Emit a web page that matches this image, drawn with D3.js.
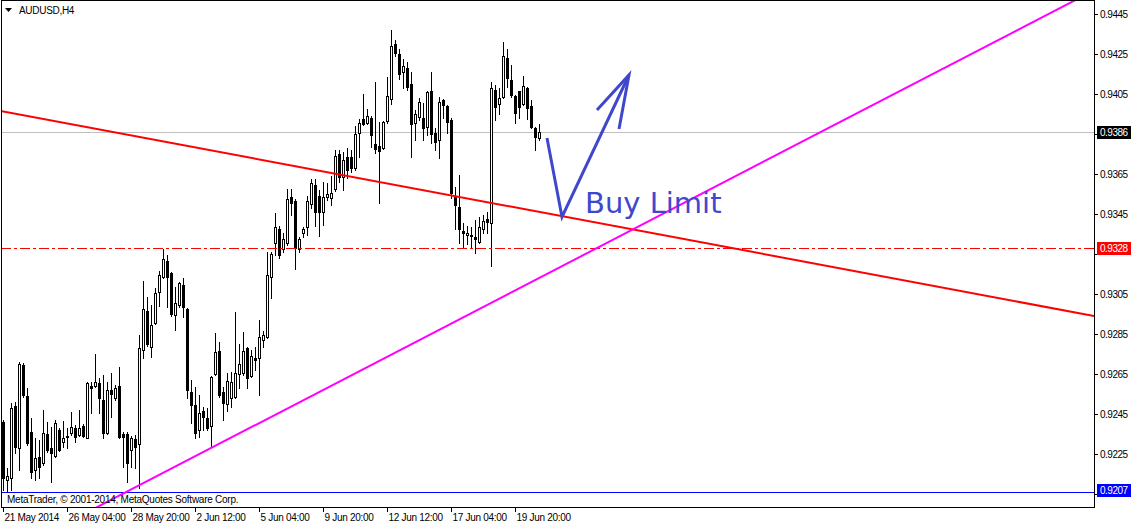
<!DOCTYPE html>
<html><head><meta charset="utf-8">
<script src="https://cdn.jsdelivr.net/npm/d3@7"></script>
<style>body{margin:0;background:#fff}svg{display:block}</style>
</head><body>
<svg id="c" width="1134" height="525"></svg>
<script>
// ---- data ----
const symbol = "AUDUSD,H4";
const copyright = "MetaTrader, \u00A9 2001-2014, MetaQuotes Software Corp.";
const opens = [0.9241,0.9212,0.9213,0.9249,0.9228,0.92695,0.9254,0.9236,0.9217,0.92235,
0.92205,0.9235,0.9228,0.9224,0.9237,0.9231,0.9234,0.92355,0.9238,0.92345,
0.9239,0.9233,0.9259,0.9259,0.92605,0.9252,0.92355,0.9257,0.9253,0.9259,
0.9235,0.9235,0.9227,0.92325,0.9230,0.9277,0.92965,0.92785,0.92905,0.9306,
0.93135,0.93215,0.93155,0.92945,0.92995,0.93095,0.92975,0.9256,0.92495,0.9237,
0.92465,0.9243,0.9239,0.9265,0.92765,0.9256,0.9250,0.9253,0.92535,0.9265,
0.92655,0.9278,0.9264,0.9273,0.9273,0.9282,0.92835,0.93135,0.93305,0.93375,
0.93275,0.93305,0.93535,0.93515,0.93275,0.93355,0.93385,0.9350,0.93595,0.9354,
0.9346,0.93535,0.9353,0.93575,0.9375,0.93635,0.93735,0.93735,0.9368,0.93855,
0.93925,0.93905,0.9393,0.9380,0.9379,0.9378,0.93915,0.94025,0.9430,0.9425,
0.9416,0.9418,0.9410,0.93905,0.93935,0.9393,0.93885,0.94065,0.93855,0.9382,
0.9402,0.9399,0.9392,0.9354,0.93485,0.93365,0.93345,0.93345,0.93335,0.9331,
0.93375,0.93425,0.93405,0.9407,0.9400,0.94035,0.9423,0.9412,0.9404,0.94065,
0.9400,0.9408,0.9399,0.9388,0.9383];
const highs = [0.9242,0.9218,0.92505,0.9251,0.9271,0.92705,0.9258,0.9243,0.9233,0.9232,
0.9247,0.9241,0.92385,0.9242,0.9238,0.92415,0.9238,0.9246,0.92395,0.9247,
0.9240,0.9261,0.9261,0.9275,0.9263,0.92645,0.9261,0.92655,0.92595,0.92685,
0.9236,0.9236,0.9234,0.92345,0.92845,0.93115,0.93035,0.92995,0.9308,0.93165,
0.93275,0.93245,0.9316,0.93085,0.9311,0.9313,0.9298,0.9262,0.92585,0.92545,
0.92485,0.9248,0.9264,0.92855,0.9281,0.92585,0.92655,0.9266,0.9296,0.9280,
0.9286,0.92785,0.9277,0.92785,0.9292,0.92865,0.9326,0.9326,0.93455,0.9339,
0.93355,0.93575,0.93575,0.93525,0.93335,0.93385,0.9354,0.93625,0.93625,0.9357,
0.9361,0.93605,0.9364,0.9377,0.9377,0.9376,0.9378,0.9377,0.9389,0.93925,
0.9405,0.93975,0.9394,0.9411,0.9391,0.93915,0.94135,0.9437,0.9432,0.94275,
0.94225,0.9421,0.9416,0.9397,0.9403,0.94005,0.94065,0.9416,0.9388,0.94035,
0.94025,0.93995,0.9393,0.93585,0.93645,0.93405,0.9339,0.93385,0.9342,0.93435,
0.93445,0.9346,0.9411,0.94095,0.9408,0.9431,0.94275,0.94195,0.94045,0.94005,
0.9414,0.94085,0.9402,0.93885,0.9390];
const lows = [0.9207,0.9206,0.9207,0.92255,0.9217,0.92535,0.92295,0.9213,0.9212,0.9213,
0.92195,0.9226,0.9211,0.92235,0.92265,0.92285,0.9228,0.92345,0.9231,0.9234,
0.92335,0.9233,0.92455,0.92585,0.92455,0.9233,0.9235,0.92435,0.9252,0.9233,
0.92185,0.9211,0.92185,0.9218,0.9208,0.9273,0.9279,0.92735,0.9290,0.9299,
0.9313,0.92985,0.9294,0.9287,0.92985,0.92935,0.9253,0.92405,0.9233,0.92335,
0.9237,0.9237,0.92285,0.92645,0.92535,0.9242,0.92465,0.92485,0.9253,0.9258,
0.92645,0.9258,0.92635,0.9267,0.92545,0.92785,0.9283,0.9303,0.93245,0.9323,
0.9326,0.93295,0.93445,0.93175,0.9326,0.93335,0.93345,0.9348,0.9339,0.9334,
0.93395,0.9352,0.93495,0.93565,0.9361,0.9357,0.9363,0.9366,0.9367,0.93735,
0.93895,0.9390,0.93785,0.93755,0.93505,0.93775,0.93905,0.9400,0.9424,0.94125,
0.9408,0.9407,0.93735,0.9382,0.9392,0.9382,0.93845,0.93805,0.9377,0.9373,
0.9393,0.93855,0.9353,0.93375,0.93305,0.9328,0.9330,0.9328,0.93255,0.93305,
0.93355,0.93355,0.9319,0.9392,0.9395,0.9403,0.94085,0.94035,0.93905,0.9393,
0.93995,0.93925,0.9388,0.9377,0.9382];
const closes = [0.9213,0.9214,0.9248,0.92285,0.9270,0.92545,0.92305,0.9216,0.9223,0.92185,
0.92355,0.9227,0.92255,0.92405,0.9227,0.9233,0.9234,0.92385,0.92335,0.9238,
0.9234,0.92605,0.9258,0.9261,0.9253,0.92355,0.9257,0.9255,0.9258,0.92335,
0.92335,0.92205,0.9233,0.92285,0.9278,0.92975,0.9280,0.92895,0.93055,0.93145,
0.93225,0.93135,0.9295,0.93005,0.93105,0.92985,0.9257,0.92495,0.92355,0.92455,
0.92435,0.9238,0.92635,0.9276,0.92545,0.92505,0.92615,0.9261,0.92655,0.9270,
0.92765,0.9263,0.9274,0.9272,0.92835,0.92845,0.93145,0.9325,0.93385,0.93245,
0.93325,0.93525,0.93505,0.9328,0.93325,0.93375,0.93515,0.93605,0.9346,0.9346,
0.93535,0.9355,0.93555,0.9374,0.93635,0.9372,0.9367,0.9368,0.9385,0.93905,
0.9390,0.9394,0.93845,0.93775,0.93765,0.9391,0.9404,0.9429,0.94255,0.9415,
0.9419,0.94085,0.9390,0.9395,0.9401,0.9388,0.9406,0.9385,0.9381,0.9401,
0.93995,0.9391,0.93555,0.93495,0.93375,0.93355,0.93355,0.93345,0.93325,0.93385,
0.93415,0.9341,0.9408,0.93985,0.9403,0.9424,0.9413,0.94045,0.93955,0.93985,
0.9409,0.9398,0.93885,0.93835,0.9386];
const timeTickIdx = [0,16,32,48,64,80,96,112,128];
const timeLabels = ["21 May 2014","26 May 04:00","28 May 20:00","2 Jun 12:00","5 Jun 04:00","9 Jun 20:00","12 Jun 12:00","17 Jun 04:00","19 Jun 20:00"];
const priceTicks = [0.9445,0.9425,0.9405,0.9385,0.9365,0.9345,0.9325,0.9305,0.9285,0.9265,0.9245,0.9225,0.9205];
const bidPrice = 0.9386;
const limitPrice = 0.9328;
const bottomPrice = 0.9207;
const redTrend = [[-0.5,0.93965],[272.75,0.9294]];
const magentaTrend = [[20,0.91948],[280,0.94643]];
const arrowPath = [[136,0.9383],[139.75,0.93435],[156.5,0.94145]];
const arrowHead = [[148.5,0.9397],[156.5,0.94145],[154,0.93875]];
const noteText = "Buy Limit";
const notePos = [145.5,0.93455];

// ---- chart ----
const svg = d3.select("#c");
const L = 1, R = 1094, T = 1, B = 507;
const x = d3.scaleLinear().domain([-0.5, 272.75]).range([L, R]);
const y = d3.scaleLinear().domain([0.91985, 0.94515]).range([B, T]);
const font = "'Liberation Sans', Arial, sans-serif";
const noteColor = "#3f48cc";

const defs = svg.append("defs");
defs.append("clipPath").attr("id","pc")
  .append("rect").attr("x",L+1).attr("y",T).attr("width",R-L-1).attr("height",B-T);
const plot = svg.append("g").attr("clip-path","url(#pc)");

const py = p => Math.round(y(p)) + 0.5;

// horizontal level lines
plot.append("line").attr("x1",L).attr("x2",R).attr("y1",py(bidPrice)).attr("y2",py(bidPrice))
  .attr("stroke","#c0c0c0").attr("stroke-width",1);
plot.append("line").attr("x1",L).attr("x2",R).attr("y1",py(bottomPrice)+2).attr("y2",py(bottomPrice)+2)
  .attr("stroke","#0000ff").attr("stroke-width",1);

// candles
const idx = d3.range(opens.length);
const cg = plot.append("g");
cg.selectAll("line.w").data(idx).join("line")
  .attr("x1", i => Math.round(x(i)) + 0.5).attr("x2", i => Math.round(x(i)) + 0.5)
  .attr("y1", i => Math.round(y(highs[i]))).attr("y2", i => Math.round(y(lows[i])) + 1)
  .attr("stroke","#000").attr("stroke-width",1);
cg.selectAll("rect.b").data(idx).join("rect")
  .attr("x", i => Math.round(x(i)) - 0.5)
  .attr("width", 2)
  .attr("y", i => Math.round(y(Math.max(opens[i], closes[i]))) + 0.5)
  .attr("height", i => Math.max(1, Math.round(y(Math.min(opens[i], closes[i]))) - Math.round(y(Math.max(opens[i], closes[i])))))
  .attr("fill", i => closes[i] >= opens[i] ? "#fff" : "#000")
  .attr("stroke","#000").attr("stroke-width",1);

// dash-dot limit line
plot.append("line").attr("x1",L).attr("x2",R).attr("y1",py(limitPrice)).attr("y2",py(limitPrice))
  .attr("stroke","#ff0000").attr("stroke-width",1).attr("stroke-dasharray","10,3,3,3");

// trend lines
const tl = d3.line().x(d => x(d[0])).y(d => y(d[1]));
plot.append("path").attr("d", tl(redTrend)).attr("fill","none").attr("stroke","#ff0000").attr("stroke-width",2);
plot.append("path").attr("d", tl(magentaTrend)).attr("fill","none").attr("stroke","#ff00ff").attr("stroke-width",2);

// annotation arrow + text
plot.append("path").attr("d", tl(arrowPath)).attr("fill","none").attr("stroke",noteColor)
  .attr("stroke-width",3).attr("stroke-linejoin","miter");
plot.append("path").attr("d", tl(arrowHead)).attr("fill","none").attr("stroke",noteColor)
  .attr("stroke-width",3);
plot.append("text").attr("x", x(notePos[0])).attr("y", y(notePos[1]))
  .attr("font-family","'DejaVu Sans', Verdana, sans-serif").attr("font-size",29)
  .attr("fill",noteColor).text(noteText);

// copyright
svg.append("text").attr("x",7).attr("y",503).attr("font-family",font).attr("font-size",10)
  .attr("letter-spacing","-0.25").attr("fill","#000").text(copyright);

// frame
svg.append("rect").attr("x",L+0.5).attr("y",0.5).attr("width",R-L).attr("height",B)
  .attr("fill","none").attr("stroke","#000").attr("stroke-width",1);

// title
svg.append("path").attr("d","M5,8 L12,8 L8.5,12 Z").attr("fill","#000");
svg.append("text").attr("x",19).attr("y",14).attr("font-family",font).attr("font-size",10)
  .attr("letter-spacing","-0.3").attr("fill","#000").text(symbol);

// right price axis
const ra = svg.append("g");
const boxes = [[bidPrice,"#000"],[limitPrice,"#ff0000"],[bottomPrice,"#0000ff"]];
priceTicks.forEach(p => {
  const yy = py(p);
  ra.append("line").attr("x1",R+1).attr("x2",R+4).attr("y1",yy).attr("y2",yy).attr("stroke","#000");
  const yc = Math.round(y(p));
  // labels hidden behind a price box are skipped (as in the terminal)
  if (boxes.some(b => Math.abs(Math.round(y(b[0])) - yc) < 13)) return;
  ra.append("text").attr("x",R+6).attr("y",yc+4).attr("font-family",font).attr("font-size",10)
    .attr("letter-spacing","-0.5").attr("fill","#000").text(d3.format(".4f")(p));
});
boxes.forEach(([p, bg]) => {
  const yc = Math.round(y(p));
  ra.append("rect").attr("x",R+3).attr("y",yc-6).attr("width",34).attr("height",13).attr("fill",bg);
  ra.append("text").attr("x",R+6).attr("y",yc+4).attr("font-family",font).attr("font-size",10)
    .attr("letter-spacing","-0.5").attr("fill","#fff").text(d3.format(".4f")(p));
});

// bottom time axis
const ba = svg.append("g");
timeTickIdx.forEach((i, k) => {
  const xx = Math.round(x(i)) + 0.5;
  ba.append("line").attr("x1",xx).attr("x2",xx).attr("y1",B).attr("y2",B+5).attr("stroke","#000");
  ba.append("text").attr("x",xx+1).attr("y",521).attr("font-family",font).attr("font-size",10)
    .attr("letter-spacing","-0.3").attr("fill","#000").text(timeLabels[k]);
});
</script>
</body></html>
